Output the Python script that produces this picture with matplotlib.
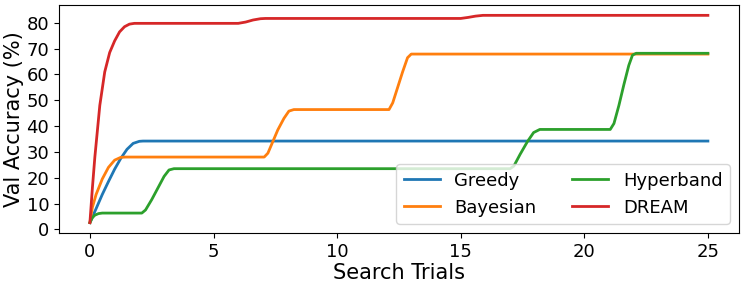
import matplotlib
matplotlib.use("Agg")
import matplotlib.pyplot as plt

# values (search trial, val accuracy %)
greedy_x = [0, 0.25, 0.5, 0.75, 1.0, 1.25, 1.5, 1.75, 2.0, 2.15, 25]
greedy_y = [2.6, 8.0, 13.5, 18.5, 23.3, 27.5, 31.0, 33.3, 34.1, 34.2, 34.2]

bayes_x = [0, 0.1, 0.25, 0.5, 0.75, 1.0, 1.25, 1.45,
           7.05, 7.2, 7.4, 7.6, 7.85, 8.05, 8.25,
           12.1, 12.25, 12.45, 12.65, 12.85, 13.0, 25]
bayes_y = [2.6, 8.5, 13.5, 19.5, 24.0, 26.8, 27.9, 28.0,
           28.0, 29.5, 34.0, 38.5, 43.0, 45.8, 46.4,
           46.4, 49.0, 55.0, 61.0, 66.5, 67.9, 67.9]

hyper_x = [0, 0.1, 0.2, 0.35, 0.5, 2.1, 2.25, 2.5, 2.75, 3.0, 3.2, 3.4,
           17.0, 17.15, 17.4, 17.7, 17.95, 18.2,
           21.05, 21.2, 21.4, 21.6, 21.8, 21.95, 22.1, 25]
hyper_y = [2.6, 4.5, 5.5, 6.1, 6.3, 6.3, 7.5, 11.5, 16.0, 20.5, 23.0, 23.5,
           23.5, 24.5, 29.0, 34.0, 37.5, 38.7,
           38.7, 41.0, 48.0, 56.0, 63.5, 67.5, 68.2, 68.2]

dream_x = [0, 0.1, 0.2, 0.4, 0.6, 0.8, 1.0, 1.2, 1.4, 1.6, 1.8,
           6.0, 6.3, 6.6, 6.9, 7.1, 15.0, 15.3, 15.6, 15.9, 16.0, 25]
dream_y = [2.6, 16.0, 28.0, 48.0, 61.0, 68.5, 73.0, 76.5, 78.5, 79.5, 79.8,
           79.8, 80.3, 81.1, 81.6, 81.7, 81.7, 82.1, 82.6, 82.9, 82.9, 82.9]

fig = plt.figure(figsize=(7.47, 2.85), dpi=100)
ax = fig.add_axes([0.079, 0.1825, 0.91, 0.80])

ax.plot(greedy_x, greedy_y, color="tab:blue", lw=2, label="Greedy")
ax.plot(bayes_x, bayes_y, color="tab:orange", lw=2, label="Bayesian")
ax.plot(hyper_x, hyper_y, color="tab:green", lw=2, label="Hyperband")
ax.plot(dream_x, dream_y, color="tab:red", lw=2, label="DREAM")

ax.set_xticks([0, 5, 10, 15, 20, 25])
ax.set_yticks(range(0, 81, 10))
ax.tick_params(labelsize=13)
ax.set_xlabel("Search Trials", fontsize=15, labelpad=2)
ax.set_ylabel("Val Accuracy (%)", fontsize=15, labelpad=2)
ax.legend(loc="lower right", ncol=2, fontsize=13)

plt.savefig("out.png", dpi=100)
